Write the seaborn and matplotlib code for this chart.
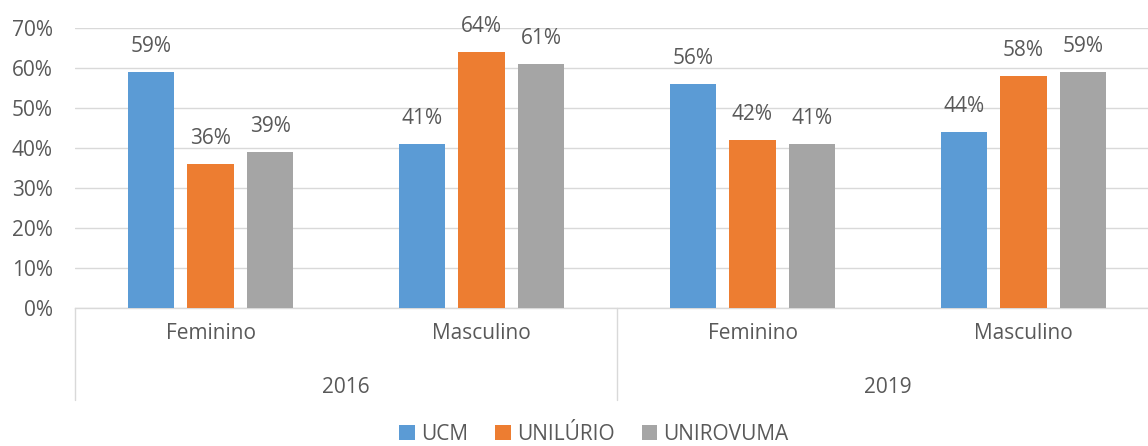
import pandas as pd
import matplotlib.pyplot as plt
import matplotlib.transforms as mtransforms
import seaborn as sns

# data
years = ['2016', '2016', '2019', '2019']
sexes = ['Feminino', 'Masculino', 'Feminino', 'Masculino']
ucm = [59, 41, 56, 44]
unilurio = [36, 64, 42, 58]
unirovuma = [39, 61, 41, 59]
institutions = ['UCM', 'UNILÚRIO', 'UNIROVUMA']
colors = ['#5B9BD5', '#ED7D31', '#A5A5A5']

rows = []
for i, (yr, sx) in enumerate(zip(years, sexes)):
    for inst, vals in zip(institutions, [ucm, unilurio, unirovuma]):
        rows.append({'cat': f'{sx} {yr}', 'Instituição': inst, 'valor': vals[i]})
df = pd.DataFrame(rows)
order = [f'{sx} {yr}' for yr, sx in zip(years, sexes)]

sns.set_theme(style="white")
plt.rcParams['font.family'] = ['Open Sans', 'DejaVu Sans']
text_color = '#595959'
grid_color = '#D9D9D9'
fs = 15

fig = plt.figure(figsize=(11.48, 4.46), dpi=100)
ax = fig.add_axes([75 / 1148, 138 / 446, 1084 / 1148, 280 / 446])

sns.barplot(data=df, x='cat', y='valor', hue='Instituição', order=order,
            hue_order=institutions, palette=colors, width=0.66, gap=0.22,
            saturation=1, linewidth=0, ax=ax, zorder=3)

for cont in ax.containers:
    ax.bar_label(cont, fmt='%d%%', padding=11, fontsize=fs, color=text_color)

ax.set_ylim(0, 70)
ax.set_xlim(-0.5, 3.5)
ax.set_yticks(range(0, 71, 10))
ax.set_yticklabels([f'{v}%' for v in range(0, 71, 10)], fontsize=fs, color=text_color)
ax.yaxis.grid(True, color=grid_color, linewidth=1, zorder=0)
ax.tick_params(axis='y', length=0, pad=16)
ax.tick_params(axis='x', length=0, pad=11)
ax.set_xticks(range(len(order)))
ax.set_xticklabels(sexes, fontsize=fs, color=text_color)
ax.set_xlabel('')
ax.set_ylabel('')
for side in ['top', 'right', 'left']:
    ax.spines[side].set_visible(False)
ax.spines['bottom'].set_color(grid_color)
ax.spines['bottom'].set_linewidth(1)

# year level of the category axis
trans = mtransforms.blended_transform_factory(ax.transData, ax.transAxes)
for xsep in [-0.5, 1.5, 3.5]:
    ax.plot([xsep, xsep], [0, -0.33], transform=trans, color=grid_color,
            linewidth=1, clip_on=False)
for k, yr in enumerate(['2016', '2019']):
    ax.text(2 * k + 0.5, -0.285, yr, transform=trans, ha='center', va='center',
            fontsize=fs, color=text_color)

handles, labels = ax.get_legend_handles_labels()
ax.legend(handles, labels, loc='center', bbox_to_anchor=(594 / 1148, 12 / 446),
          bbox_transform=fig.transFigure, ncol=3, frameon=False, fontsize=fs,
          handlelength=0.75, handleheight=0.75, handletextpad=0.3, columnspacing=1.3,
          labelcolor=text_color, borderpad=0.1)

fig.savefig('out.png', dpi=100)
